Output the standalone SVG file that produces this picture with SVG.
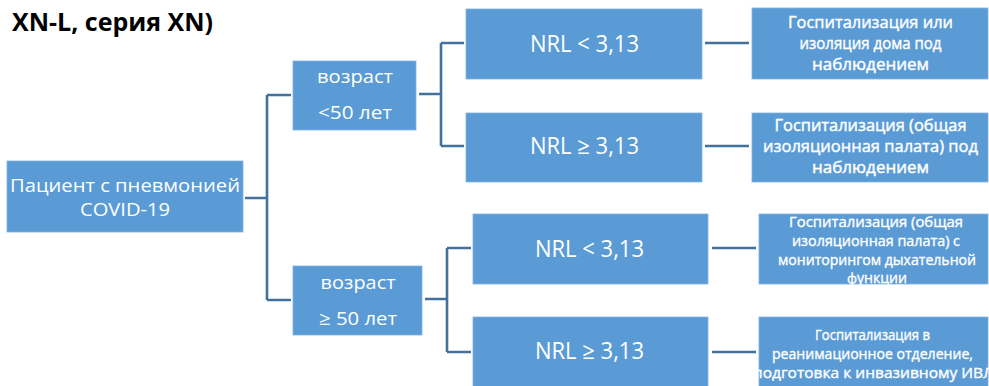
<svg xmlns="http://www.w3.org/2000/svg" width="989" height="386" viewBox="0 0 989 386">
<style>
.box{fill:#5B9BD5;stroke:#7FB2E0;stroke-width:0.8}
.t{font-family:"Open Sans","Noto Sans","DejaVu Sans",sans-serif;fill:#FFFFFF;text-anchor:middle}
.root{font-size:19px}
.age{font-size:18.5px}
.nrl{font-size:23px}
.o1{font-size:15.5px;stroke:#FFFFFF;stroke-width:0.4}
.o2{font-size:14px;stroke:#FFFFFF;stroke-width:0.35}
.con{fill:none;stroke:#41719C;stroke-width:2.6}
.title{font-family:"Open Sans","Noto Sans","DejaVu Sans",sans-serif;font-weight:bold;font-size:25px;fill:#000000}
</style>
<rect width="989" height="386" fill="#FFFFFF"/>
<text class="title" x="12" y="31" textLength="201" lengthAdjust="spacingAndGlyphs">XN-L, серия XN)</text>
<g id="connectors">
<path class="con" d="M245,198 H267 M267,95 V300 M267,95 H291 M267,300 H291"/>
<path class="con" d="M419,94 H441 M441,43 V146 M441,43 H464 M441,146 H464"/>
<path class="con" d="M425,299 H447 M447,248 V352 M447,248 H471 M447,352 H471"/>
<path class="con" d="M705,43 H749 M705,146 H749 M712,248 H756 M712,352 H756"/>
</g>
<g id="root">
<rect class="box" x="7" y="161" width="236" height="71"/>
<text class="t root" x="125" y="192" textLength="230" lengthAdjust="spacingAndGlyphs">Пациент с пневмонией</text>
<text class="t root" x="125" y="216" textLength="90" lengthAdjust="spacingAndGlyphs">COVID-19</text>
</g>
<g id="age-lt50">
<rect class="box" x="293" y="61" width="123" height="69"/>
<text class="t age" x="355" y="83" textLength="76" lengthAdjust="spacingAndGlyphs">возраст</text>
<text class="t age" x="355" y="119" textLength="74" lengthAdjust="spacingAndGlyphs">&lt;50 лет</text>
</g>
<g id="age-ge50">
<rect class="box" x="293" y="266" width="129" height="69"/>
<text class="t age" x="358" y="289" textLength="75" lengthAdjust="spacingAndGlyphs">возраст</text>
<text class="t age" x="358" y="325" textLength="78" lengthAdjust="spacingAndGlyphs">≥ 50 лет</text>
</g>
<g id="nrl1">
<rect class="box" x="466" y="9" width="236" height="70"/>
<text class="t nrl" x="584.5" y="52" textLength="109" lengthAdjust="spacingAndGlyphs">NRL &lt; 3,13</text>
</g>
<g id="nrl2">
<rect class="box" x="466" y="113" width="236" height="69"/>
<text class="t nrl" x="584.5" y="154" textLength="109" lengthAdjust="spacingAndGlyphs">NRL ≥ 3,13</text>
</g>
<g id="nrl3">
<rect class="box" x="473" y="214" width="235" height="70"/>
<text class="t nrl" x="589.5" y="257" textLength="109" lengthAdjust="spacingAndGlyphs">NRL &lt; 3,13</text>
</g>
<g id="nrl4">
<rect class="box" x="473" y="317" width="235" height="70"/>
<text class="t nrl" x="589.5" y="359" textLength="109" lengthAdjust="spacingAndGlyphs">NRL ≥ 3,13</text>
</g>
<g id="out1">
<rect class="box" x="752" y="8" width="236" height="71"/>
<text class="t o1" x="870.5" y="28" textLength="165" lengthAdjust="spacingAndGlyphs">Госпитализация или</text>
<text class="t o1" x="870.5" y="49" textLength="142" lengthAdjust="spacingAndGlyphs">изоляция дома под</text>
<text class="t o1" x="870.5" y="70" textLength="117" lengthAdjust="spacingAndGlyphs">наблюдением</text>
</g>
<g id="out2">
<rect class="box" x="752" y="113" width="236" height="69"/>
<text class="t o1" x="870.5" y="131" textLength="192" lengthAdjust="spacingAndGlyphs">Госпитализация (общая</text>
<text class="t o1" x="870.5" y="152" textLength="215" lengthAdjust="spacingAndGlyphs">изоляционная палата) под</text>
<text class="t o1" x="870.5" y="173" textLength="117" lengthAdjust="spacingAndGlyphs">наблюдением</text>
</g>
<g id="out3">
<rect class="box" x="759" y="214" width="229" height="70"/>
<text class="t o2" x="876" y="227" textLength="174" lengthAdjust="spacingAndGlyphs">Госпитализация (общая</text>
<text class="t o2" x="876" y="246" textLength="168" lengthAdjust="spacingAndGlyphs">изоляционная палата) с</text>
<text class="t o2" x="877" y="265" textLength="198" lengthAdjust="spacingAndGlyphs">мониторингом дыхательной</text>
<text class="t o2" x="877" y="283" textLength="60" lengthAdjust="spacingAndGlyphs">функции</text>
</g>
<g id="out4">
<rect class="box" x="759" y="317" width="229" height="70"/>
<text class="t o2" x="872.5" y="340" textLength="115" lengthAdjust="spacingAndGlyphs">Госпитализация в</text>
<text class="t o2" x="872.5" y="359" textLength="201" lengthAdjust="spacingAndGlyphs">реанимационное отделение,</text>
<text class="t o2" x="873.5" y="378" textLength="241" lengthAdjust="spacingAndGlyphs">подготовка к инвазивному ИВЛ</text>
</g>
</svg>
